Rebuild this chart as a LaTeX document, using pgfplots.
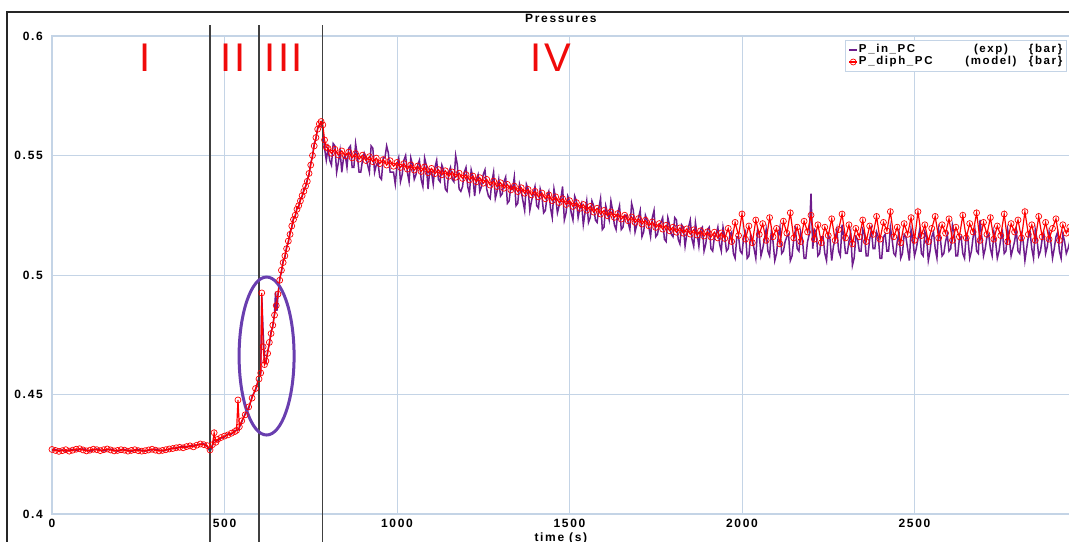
\documentclass[border=0pt]{standalone}
\usepackage{pgfplots}
\pgfplotsset{compat=1.18}
\usepackage{fontspec}
\setmainfont{Liberation Sans}[LetterSpace=14]
\newfontfamily\romanfont{Liberation Sans}[LetterSpace=6]
\definecolor{gridc}{RGB}{196,212,230}
\definecolor{purp}{RGB}{110,28,140}
\definecolor{ellc}{RGB}{105,62,175}
\definecolor{numred}{RGB}{240,10,10}
\begin{document}
\begin{tikzpicture}
\begin{axis}[
  scale only axis, width=1017.75pt, height=478pt,
  xmin=0, xmax=2950, ymin=0.4, ymax=0.6,
  xtick={0,500,1000,1500,2000,2500},
  ytick={0.4,0.45,0.5,0.55,0.6},
  grid=major, major grid style={color=gridc, line width=0.9pt},
  axis line style={gridc, line width=1.2pt},
  tick style={draw=none},
  ticklabel style={font=\bfseries\fontsize{12}{13}\selectfont},
  /pgf/number format/assume math mode=true,
  /pgf/number format/1000 sep={},
  yticklabel style={anchor=east, inner sep=0pt, xshift=-9pt},
  xticklabel style={anchor=center, inner sep=0pt, yshift=-9pt},
  title={Pressures},
  title style={font=\bfseries\fontsize{12}{13}\selectfont, at={(axis description cs:0.5,1)}, anchor=center, yshift=12pt},
  xlabel={time (s)},
  xlabel style={font=\bfseries\fontsize{12}{13}\selectfont, at={(axis description cs:0.5,0)}, anchor=center, yshift=-24pt},
  clip=false,
  legend style={at={(axis description cs:1,1)}, anchor=north east, xshift=-3pt, yshift=-4pt,
    draw=gridc, line width=1pt, fill=white,
    font=\bfseries\fontsize{11.5}{12}\selectfont,
    inner xsep=3pt, inner ysep=3.5pt, row sep=0pt,
    nodes={inner sep=1pt, text height=8pt, text depth=2pt, anchor=west}},
  legend cell align=left,
  legend image code/.code={\draw[mark repeat=2,mark phase=2,#1] plot coordinates {(0pt,0pt) (4pt,0pt) (8pt,0pt)};},
]
% experimental
\addplot[color=purp, line width=1.5pt, mark=none] coordinates {
(0,0.4266)(10,0.4270)(20,0.4265)(30,0.4268)(40,0.4263)(50,0.4267)(60,0.4270)(70,0.4266)(80,0.4270)(90,0.4272)
(100,0.4267)(110,0.4263)(120,0.4268)(130,0.4272)(140,0.4267)(150,0.4264)(160,0.4269)(170,0.4271)(180,0.4266)(190,0.4263)
(200,0.4268)(210,0.4270)(220,0.4266)(230,0.4262)(240,0.4267)(250,0.4270)(260,0.4266)(270,0.4263)(280,0.4267)(290,0.4269)
(300,0.4271)(310,0.4267)(320,0.4264)(330,0.4268)(340,0.4270)(350,0.4276)(360,0.4274)(370,0.4280)(380,0.4283)(390,0.4279)
(400,0.4286)(410,0.4284)(420,0.4289)(430,0.4291)(440,0.4294)(450,0.4282)(458,0.4262)(465,0.4285)(470,0.4310)(480,0.4306)
(490,0.4318)(500,0.4322)(510,0.4335)(520,0.4334)(530,0.4348)(540,0.4352)(550,0.4385)(560,0.4420)(570,0.4440)(580,0.4492)
(590,0.4518)(600,0.4572)(605,0.4585)(608,0.4910)(612,0.4760)(616,0.4640)(620,0.4632)(625,0.4680)(630,0.4710)(635,0.4762)
(640,0.4785)(645,0.4840)(648,0.4930)(652,0.4850)(655,0.4915)(660,0.4985)(665,0.5012)(670,0.5060)(675,0.5072)(680,0.5118)
(685,0.5135)(690,0.5180)(695,0.5198)(700,0.5240)(705,0.5245)(710,0.5282)(715,0.5285)(720,0.5318)(725,0.5328)(730,0.5358)
(735,0.5368)(740,0.5400)(745,0.5420)(750,0.5468)(755,0.5495)(760,0.5548)(765,0.5570)(770,0.5615)(775,0.5625)(780,0.5638)
(785,0.5610)(790,0.5530)(795,0.5480)
(800,0.553)(805,0.548)(810,0.546)(815,0.555)(820,0.554)(825,0.543)(830,0.547)(835,0.552)(840,0.543)(845,0.549)
(850,0.550)(855,0.545)(860,0.553)(865,0.554)(870,0.545)(875,0.545)(880,0.555)(885,0.550)(890,0.543)(895,0.543)
(900,0.548)(905,0.551)(910,0.549)(915,0.546)(920,0.543)(925,0.554)(930,0.553)(935,0.543)(940,0.546)(945,0.547)
(950,0.541)(955,0.540)(960,0.549)(965,0.549)(970,0.554)(975,0.551)(980,0.543)(985,0.543)(990,0.543)(995,0.538)
(1000,0.546)(1005,0.549)(1010,0.539)(1015,0.542)(1020,0.548)(1025,0.550)(1030,0.543)(1035,0.539)(1040,0.549)(1045,0.546)
(1050,0.540)(1055,0.542)(1060,0.546)(1065,0.548)(1070,0.540)(1075,0.537)(1080,0.549)(1085,0.546)(1090,0.536)(1095,0.544)
(1100,0.543)(1105,0.538)(1110,0.545)(1115,0.548)(1120,0.540)(1125,0.539)(1130,0.546)(1135,0.544)(1140,0.536)(1145,0.535)
(1150,0.543)(1155,0.545)(1160,0.540)(1165,0.539)(1170,0.550)(1175,0.546)(1180,0.536)(1185,0.535)(1190,0.537)(1195,0.543)
(1200,0.545)(1205,0.537)(1210,0.534)(1215,0.544)(1220,0.541)(1225,0.533)(1230,0.540)(1235,0.542)(1240,0.535)(1245,0.537)
(1250,0.542)(1255,0.544)(1260,0.536)(1265,0.533)(1270,0.532)(1275,0.539)(1280,0.543)(1285,0.532)(1290,0.535)(1295,0.540)
(1300,0.533)(1305,0.534)(1310,0.539)(1315,0.541)(1320,0.530)(1325,0.531)(1330,0.537)(1335,0.536)(1340,0.541)(1345,0.529)
(1350,0.530)(1355,0.538)(1360,0.535)(1365,0.531)(1370,0.527)(1375,0.538)(1380,0.536)(1385,0.527)(1390,0.531)(1395,0.534)
(1400,0.537)(1405,0.529)(1410,0.528)(1415,0.536)(1420,0.533)(1425,0.526)(1430,0.527)(1435,0.533)(1440,0.535)(1445,0.528)
(1450,0.524)(1455,0.536)(1460,0.532)(1465,0.526)(1470,0.529)(1475,0.532)(1480,0.537)(1485,0.523)(1490,0.526)(1495,0.533)
(1500,0.531)(1505,0.526)(1510,0.523)(1515,0.533)(1520,0.531)(1525,0.524)(1530,0.528)(1535,0.530)(1540,0.521)(1545,0.526)
(1550,0.531)(1555,0.522)(1560,0.524)(1565,0.531)(1570,0.529)(1575,0.523)(1580,0.522)(1585,0.528)(1590,0.532)(1595,0.519)
(1600,0.520)(1605,0.529)(1610,0.526)(1615,0.523)(1620,0.531)(1625,0.527)(1630,0.521)(1635,0.519)(1640,0.526)(1645,0.529)
(1650,0.519)(1655,0.520)(1660,0.525)(1665,0.525)(1670,0.522)(1675,0.519)(1680,0.530)(1685,0.527)(1690,0.518)(1695,0.521)
(1700,0.524)(1705,0.527)(1710,0.516)(1715,0.518)(1720,0.525)(1725,0.523)(1730,0.520)(1735,0.516)(1740,0.524)(1745,0.527)
(1750,0.516)(1755,0.517)(1760,0.521)(1765,0.522)(1770,0.524)(1775,0.515)(1780,0.514)(1785,0.524)(1790,0.521)(1795,0.517)
(1800,0.516)(1805,0.524)(1810,0.523)(1815,0.515)(1820,0.513)(1825,0.521)(1830,0.520)(1835,0.512)(1840,0.517)(1845,0.520)
(1850,0.523)(1855,0.515)(1860,0.512)(1865,0.522)(1870,0.517)(1875,0.512)(1880,0.519)(1885,0.520)(1890,0.510)(1895,0.513)
(1900,0.519)(1905,0.520)(1910,0.511)(1915,0.510)(1920,0.516)(1925,0.517)(1930,0.520)(1935,0.513)(1940,0.510)(1945,0.520)
(1950,0.516)(1955,0.510)(1960,0.511)(1965,0.517)(1970,0.518)(1975,0.509)(1980,0.507)(1985,0.516)(1990,0.516)(1995,0.510)
(2000,0.509)(2005,0.516)(2010,0.518)(2015,0.507)(2020,0.508)(2025,0.517)(2030,0.515)(2035,0.511)(2040,0.507)(2045,0.519)
(2050,0.517)(2055,0.508)(2060,0.511)(2065,0.515)(2070,0.519)(2075,0.510)(2080,0.508)(2085,0.518)(2090,0.514)(2095,0.506)
(2100,0.509)(2105,0.516)(2110,0.520)(2115,0.509)(2120,0.510)(2125,0.514)(2130,0.516)(2135,0.517)(2140,0.506)(2145,0.508)
(2150,0.515)(2155,0.519)(2160,0.511)(2165,0.510)(2170,0.518)(2175,0.515)(2180,0.507)(2185,0.507)(2190,0.514)(2195,0.517)
(2200,0.534)(2205,0.511)(2210,0.519)(2215,0.518)(2220,0.508)(2225,0.509)(2230,0.516)(2235,0.516)(2240,0.509)(2245,0.506)
(2250,0.517)(2255,0.515)(2260,0.506)(2265,0.512)(2270,0.515)(2275,0.519)(2280,0.510)(2285,0.508)(2290,0.521)(2295,0.516)
(2300,0.509)(2305,0.509)(2310,0.514)(2315,0.518)(2320,0.504)(2325,0.507)(2330,0.516)(2335,0.515)(2340,0.510)(2345,0.510)
(2350,0.519)(2355,0.517)(2360,0.508)(2365,0.508)(2370,0.515)(2375,0.519)(2380,0.511)(2385,0.511)(2390,0.518)(2395,0.516)
(2400,0.507)(2405,0.507)(2410,0.516)(2415,0.517)(2420,0.510)(2425,0.510)(2430,0.520)(2435,0.515)(2440,0.509)(2445,0.508)
(2450,0.514)(2455,0.518)(2460,0.507)(2465,0.509)(2470,0.517)(2475,0.516)(2480,0.511)(2485,0.506)(2490,0.519)(2495,0.515)
(2500,0.508)(2505,0.511)(2510,0.515)(2515,0.519)(2520,0.509)(2525,0.508)(2530,0.518)(2535,0.516)(2540,0.506)(2545,0.510)
(2550,0.516)(2555,0.518)(2560,0.511)(2565,0.507)(2570,0.519)(2575,0.515)(2580,0.508)(2585,0.509)(2590,0.514)(2595,0.517)
(2600,0.510)(2605,0.511)(2610,0.521)(2615,0.518)(2620,0.508)(2625,0.508)(2630,0.515)(2635,0.516)(2640,0.509)(2645,0.507)
(2650,0.517)(2655,0.515)(2660,0.507)(2665,0.510)(2670,0.516)(2675,0.519)(2680,0.510)(2685,0.509)(2690,0.523)(2695,0.516)
(2700,0.508)(2705,0.511)(2710,0.516)(2715,0.517)(2720,0.511)(2725,0.508)(2730,0.518)(2735,0.514)(2740,0.507)(2745,0.510)
(2750,0.515)(2755,0.518)(2760,0.509)(2765,0.510)(2770,0.519)(2775,0.515)(2780,0.508)(2785,0.511)(2790,0.514)(2795,0.519)
(2800,0.510)(2805,0.509)(2810,0.517)(2815,0.514)(2820,0.506)(2825,0.511)(2830,0.516)(2835,0.518)(2840,0.511)(2845,0.507)
(2850,0.519)(2855,0.515)(2860,0.508)(2865,0.510)(2870,0.515)(2875,0.517)(2880,0.509)(2885,0.512)(2890,0.518)(2895,0.514)
(2900,0.507)(2905,0.511)(2910,0.516)(2915,0.518)(2920,0.510)(2925,0.507)(2930,0.517)(2935,0.514)(2940,0.509)(2945,0.511)(2950,0.514)
};
\addlegendentry{\makebox[100pt][l]{P\_in\_PC}\makebox[64pt][c]{(exp)}\hspace{6pt}\{bar\}}
% model
\addplot[color=red, line width=1.2pt, mark=o, mark size=3pt, mark options={solid, line width=0.7pt}] coordinates {
(0,0.4270)(10,0.4266)(20,0.4262)(30,0.4265)(40,0.4269)(50,0.4263)(60,0.4267)(70,0.4271)(80,0.4273)(90,0.4268)
(100,0.4264)(110,0.4267)(120,0.4271)(130,0.4269)(140,0.4265)(150,0.4269)(160,0.4272)(170,0.4268)(180,0.4264)(190,0.4266)
(200,0.4269)(210,0.4267)(220,0.4263)(230,0.4266)(240,0.4269)(250,0.4265)(260,0.4263)(270,0.4265)(280,0.4268)(290,0.4271)
(300,0.4267)(310,0.4264)(320,0.4266)(330,0.4269)(340,0.4272)(350,0.4274)(360,0.4277)(370,0.4279)(380,0.4277)(390,0.4282)
(400,0.4285)(410,0.4281)(420,0.4288)(430,0.4293)(440,0.4290)(450,0.4286)(458,0.4268)(465,0.4290)(470,0.4340)(475,0.4300)
(480,0.4312)(490,0.4320)(500,0.4326)(510,0.4331)(520,0.4338)(530,0.4345)(535,0.4350)(539,0.4477)(543,0.4365)(550,0.4390)
(560,0.4415)(570,0.4448)(580,0.4485)(590,0.4525)(600,0.4565)(605,0.4590)(608,0.4925)(612,0.4700)(616,0.4625)(620,0.4640)
(625,0.4672)(630,0.4718)(635,0.4755)(640,0.4790)(645,0.4832)(650,0.4872)(655,0.4920)(660,0.4978)(665,0.5020)(670,0.5052)
(675,0.5080)(680,0.5110)(685,0.5142)(690,0.5170)(695,0.5205)(700,0.5232)(705,0.5250)(710,0.5275)(715,0.5290)(720,0.5310)
(725,0.5332)(730,0.5350)(735,0.5372)(740,0.5392)(745,0.5425)(750,0.5460)(755,0.5500)(760,0.5540)(765,0.5575)(770,0.5610)
(775,0.5632)(780,0.5642)(785,0.5628)(790,0.5565)(795,0.5535)
(800,0.5530)(810,0.5509)(820,0.5526)(830,0.5502)(840,0.5519)(850,0.5498)(860,0.5514)(870,0.5490)(880,0.5508)(890,0.5485)
(900,0.5501)(910,0.5479)(920,0.5495)(930,0.5474)(940,0.5489)(950,0.5466)(960,0.5483)(970,0.5460)(980,0.5478)(990,0.5455)
(1000,0.5471)(1010,0.5450)(1020,0.5466)(1030,0.5443)(1040,0.5461)(1050,0.5439)(1060,0.5456)(1070,0.5433)(1080,0.5452)(1090,0.5428)
(1100,0.5446)(1110,0.5424)(1120,0.5441)(1130,0.5419)(1140,0.5436)(1150,0.5413)(1160,0.5431)(1170,0.5409)(1180,0.5426)(1190,0.5404)
(1200,0.5420)(1210,0.5398)(1220,0.5414)(1230,0.5390)(1240,0.5407)(1250,0.5384)(1260,0.5400)(1270,0.5376)(1280,0.5393)(1290,0.5370)
(1300,0.5386)(1310,0.5363)(1320,0.5379)(1330,0.5356)(1340,0.5372)(1350,0.5349)(1360,0.5365)(1370,0.5342)(1380,0.5358)(1390,0.5335)
(1400,0.5350)(1410,0.5327)(1420,0.5343)(1430,0.5319)(1440,0.5335)(1450,0.5311)(1460,0.5327)(1470,0.5303)(1480,0.5319)(1490,0.5295)
(1500,0.5311)(1510,0.5287)(1520,0.5303)(1530,0.5279)(1540,0.5295)(1550,0.5271)(1560,0.5287)(1570,0.5263)(1580,0.5279)(1590,0.5255)
(1600,0.5270)(1610,0.5248)(1620,0.5264)(1630,0.5241)(1640,0.5257)(1650,0.5234)(1660,0.5250)(1670,0.5227)(1680,0.5243)(1690,0.5220)
(1700,0.5236)(1710,0.5213)(1720,0.5229)(1730,0.5206)(1740,0.5222)(1750,0.5199)(1760,0.5215)(1770,0.5192)(1780,0.5208)(1790,0.5185)
(1800,0.5200)(1810,0.5179)(1820,0.5197)(1830,0.5175)(1840,0.5193)(1850,0.5171)(1860,0.5189)(1870,0.5167)(1880,0.5185)(1890,0.5163)
(1900,0.5181)(1910,0.5159)(1920,0.5179)(1930,0.5155)(1940,0.5176)(1950,0.5153)(1960,0.5195)(1970,0.5140)(1980,0.5220)(1990,0.5165)
(2000,0.5255)(2010,0.5150)(2020,0.5205)(2030,0.5135)(2040,0.5230)(2050,0.5170)(2060,0.5215)(2070,0.5145)(2080,0.5240)(2090,0.5160)
(2100,0.5195)(2110,0.5130)(2120,0.5225)(2130,0.5175)(2140,0.5260)(2150,0.5155)(2160,0.5200)(2170,0.5140)(2180,0.5225)(2190,0.5180)
(2200,0.5250)(2210,0.5150)(2220,0.5210)(2230,0.5135)(2240,0.5200)(2250,0.5165)(2260,0.5235)(2270,0.5145)(2280,0.5190)(2290,0.5255)
(2300,0.5155)(2310,0.5210)(2320,0.5130)(2330,0.5195)(2340,0.5160)(2350,0.5230)(2360,0.5140)(2370,0.5205)(2380,0.5170)(2390,0.5245)
(2400,0.5150)(2410,0.5220)(2420,0.5185)(2430,0.5265)(2440,0.5160)(2450,0.5200)(2460,0.5135)(2470,0.5215)(2480,0.5170)(2490,0.5240)
(2500,0.5145)(2510,0.5265)(2520,0.5165)(2530,0.5210)(2540,0.5140)(2550,0.5195)(2560,0.5245)(2570,0.5155)(2580,0.5210)(2590,0.5175)
(2600,0.5235)(2610,0.5145)(2620,0.5200)(2630,0.5160)(2640,0.5250)(2650,0.5155)(2660,0.5215)(2670,0.5180)(2680,0.5260)(2690,0.5145)
(2700,0.5220)(2710,0.5170)(2720,0.5240)(2730,0.5150)(2740,0.5205)(2750,0.5165)(2760,0.5255)(2770,0.5140)(2780,0.5215)(2790,0.5180)
(2800,0.5230)(2810,0.5155)(2820,0.5265)(2830,0.5170)(2840,0.5210)(2850,0.5145)(2860,0.5245)(2870,0.5160)(2880,0.5220)(2890,0.5150)
(2900,0.5195)(2910,0.5235)(2920,0.5145)(2930,0.5210)(2940,0.5175)(2950,0.5200)
};
\addlegendentry{\makebox[100pt][l]{P\_diph\_PC}\makebox[64pt][c]{(model)}\hspace{6pt}\{bar\}}
% phase boundaries
\draw[black!75, line width=1.1pt] (axis cs:458,0.3880) -- (axis cs:458,0.6046);
\draw[black!75, line width=1.1pt] (axis cs:600,0.3880) -- (axis cs:600,0.6046);
\draw[black!75, line width=1.1pt] (axis cs:785,0.3880) -- (axis cs:785,0.6046);
% ellipse
\draw[ellc, line width=3pt] (axis cs:622,0.4661) ellipse [x radius=27.5pt, y radius=79pt];
% phase labels
\node[text=numred, font=\romanfont\fontsize{40}{40}\selectfont, inner sep=0pt] at (axis cs:270,0.591) {I};
\node[text=numred, font=\romanfont\fontsize{40}{40}\selectfont, inner sep=0pt] at (axis cs:525,0.591) {II};
\node[text=numred, font=\romanfont\fontsize{40}{40}\selectfont, inner sep=0pt] at (axis cs:672,0.591) {III};
\node[text=numred, font=\romanfont\fontsize{40}{40}\selectfont, inner sep=0pt] at (axis cs:1446,0.591) {IV};
\end{axis}
\draw[black!85, line width=1.5pt] ([xshift=-45pt,yshift=-40pt]current axis.south west) -- ([xshift=-45pt,yshift=24pt]current axis.north west) -- ([xshift=10pt,yshift=24pt]current axis.north east);
\pgfresetboundingbox
\path ([xshift=-52pt,yshift=-28pt]current axis.south west) rectangle ([xshift=-0.75pt,yshift=36pt]current axis.north east);
\end{tikzpicture}
\end{document}
